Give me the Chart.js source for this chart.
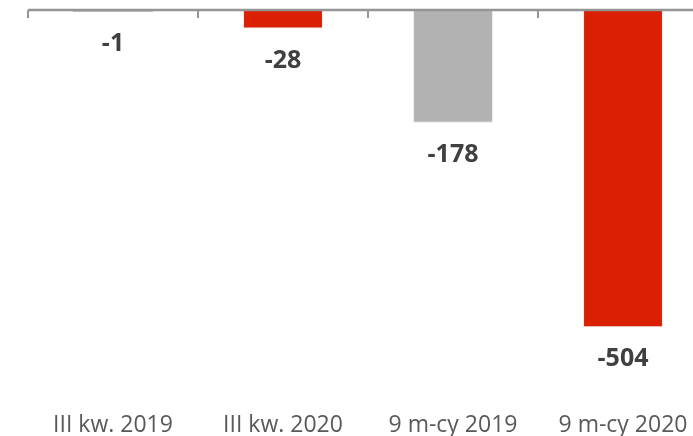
<!DOCTYPE html>
<html>
<head>
<meta charset="utf-8">
<script src="https://cdn.jsdelivr.net/npm/chart.js@4/dist/chart.umd.min.js"></script>
<style>
  html, body { margin: 0; padding: 0; background: #fff; overflow: hidden; }
  #wrap { width: 693px; height: 436px; overflow: hidden; }
</style>
</head>
<body>
<div id="wrap"><canvas id="chart" width="720" height="436"></canvas></div>
<script>
// dane z wykresu
const categories = ['III kw. 2019', 'III kw. 2020', '9 m-cy 2019', '9 m-cy 2020'];
const values = [-1, -28, -178, -504];
const barColors = ['#b2b2b2', '#da1f03', '#b2b2b2', '#da1f03'];

// podpisy wartości pod słupkami
const valueLabels = {
    id: 'valueLabels',
    afterDatasetsDraw(chart) {
        const ctx = chart.ctx;
        const meta = chart.getDatasetMeta(0);
        ctx.save();
        ctx.font = 'bold 25px "Open Sans"';
        ctx.fillStyle = '#404040';
        ctx.textAlign = 'center';
        ctx.textBaseline = 'middle';
        meta.data.forEach((bar, i) => {
            ctx.fillText(String(values[i]), bar.x, bar.y + 32);
        });
        ctx.restore();
    }
};

// linia osi na poziomie zera z kreskami między kategoriami
const zeroAxis = {
    id: 'zeroAxis',
    afterDatasetsDraw(chart) {
        const ctx = chart.ctx;
        const x = chart.scales.x;
        const y0 = chart.scales.y.getPixelForValue(0) - 1;
        const half = (x.getPixelForValue(1) - x.getPixelForValue(0)) / 2;
        ctx.save();
        ctx.strokeStyle = '#959595';
        ctx.lineWidth = 2.5;
        ctx.beginPath();
        ctx.moveTo(x.left, y0);
        ctx.lineTo(x.right, y0);
        ctx.stroke();
        ctx.lineWidth = 2;
        ctx.beginPath();
        for (let i = 0; i <= categories.length; i++) {
            const tx = Math.round(x.getPixelForValue(i) - half);
            ctx.moveTo(tx, y0);
            ctx.lineTo(tx, y0 + 8);
        }
        ctx.stroke();
        ctx.restore();
    }
};

new Chart(document.getElementById('chart'), {
    type: 'bar',
    data: {
        labels: categories,
        datasets: [{
            data: values,
            backgroundColor: barColors,
            borderColor: '#e3ecf1',
            borderWidth: (c) => (Math.abs(c.raw) < 2 ? 0 : 1),
            categoryPercentage: 1,
            barPercentage: 0.47
        }]
    },
    options: {
        responsive: false,
        animation: false,
        layout: { padding: { left: 28, right: 12, top: 11, bottom: 0 } },
        plugins: { legend: { display: false }, tooltip: { enabled: false } },
        scales: {
            x: {
                position: 'bottom',
                grid: { display: false },
                border: { display: false },
                ticks: {
                    color: '#595959',
                    font: { family: 'Open Sans', size: 23 },
                    padding: 14,
                    maxRotation: 0
                },
                afterFit(scale) { scale.height = 46; }
            },
            y: {
                display: false,
                min: -604,
                max: 0
            }
        }
    },
    plugins: [valueLabels, zeroAxis]
});
</script>
</body>
</html>
